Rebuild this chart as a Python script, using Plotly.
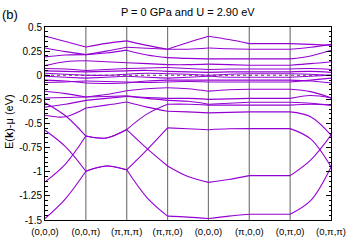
import plotly.graph_objects as go

# high-symmetry path labels
k_labels = ["(0,0,0)", "(0,0,π)", "(π,π,π)", "(π,π,0)", "(0,0,0)", "(π,0,0)", "(0,π,0)", "(0,π,π)"]
# k-nodes: high-symmetry points and segment midpoints
k_nodes = [0, 0.5, 1, 1.5, 2, 2.5, 3, 3.5, 4, 4.5, 5, 5.5, 6, 6.5, 7]

# band energies E(k)-mu (eV) read at each node
band_L1 = [-1.485, -1.28, -0.995, -0.94, -0.98, -1.27, -1.46, -1.47, -1.485, -1.46, -1.44, -1.44, -1.44, -1.30, -0.95]
band_L2 = [-1.105, -0.92, -0.63, -0.65, -0.563, -0.76, -0.94, -1.05, -1.11, -1.08, -1.04, -1.04, -1.04, -0.88, -0.62]
band_L3 = [-0.57, -0.74, -0.995, -0.94, -0.98, -0.77, -0.545, -0.555, -0.565, -0.555, -0.553, -0.553, -0.553, -0.66, -0.95]
band_L4 = [-0.285, -0.42, -0.63, -0.65, -0.563, -0.40, -0.30, -0.30, -0.31, -0.31, -0.31, -0.31, -0.31, -0.30, -0.31]
band_B5 = [-0.415, -0.43, -0.34, -0.31, -0.277, -0.33, -0.373, -0.38, -0.39, -0.385, -0.38, -0.38, -0.38, -0.43, -0.62]
band_B6 = [-0.33, -0.30, -0.26, -0.24, -0.22, -0.23, -0.24, -0.24, -0.25, -0.245, -0.24, -0.24, -0.24, -0.21, -0.235]
band_B7 = [-0.235, -0.23, -0.225, -0.22, -0.214, -0.24, -0.26, -0.27, -0.30, -0.29, -0.28, -0.28, -0.28, -0.29, -0.31]
band_B8 = [-0.166, -0.19, -0.225, -0.20, -0.16, -0.14, -0.13, -0.14, -0.165, -0.15, -0.145, -0.145, -0.145, -0.17, -0.235]
band_C1 = [0.07, 0.065, 0.05, 0.06, 0.07, 0.075, 0.08, 0.07, 0.06, 0.065, 0.065, 0.065, 0.065, 0.07, 0.06]
band_C2 = [0.045, 0.04, 0.035, 0.04, 0.045, 0.05, 0.04, 0.035, 0.03, 0.035, 0.035, 0.035, 0.035, 0.04, 0.03]
band_C3 = [0.02, 0.01, 0.0, 0.0, 0.01, 0.02, 0.015, 0.01, 0.0, 0.01, 0.015, 0.015, 0.015, 0.01, 0.0]
band_C4 = [-0.01, -0.02, -0.03, -0.02, -0.01, -0.02, -0.03, -0.02, -0.01, -0.02, -0.02, -0.02, -0.02, -0.01, 0.0]
band_C5 = [-0.05, -0.06, -0.08, -0.085, -0.08, -0.06, -0.05, -0.05, -0.05, -0.05, -0.05, -0.05, -0.05, -0.06, -0.08]
band_C6 = [-0.075, -0.07, -0.06, -0.065, -0.07, -0.075, -0.07, -0.065, -0.07, -0.07, -0.07, -0.07, -0.07, -0.05, -0.03]
band_U1 = [0.404, 0.35, 0.293, 0.33, 0.356, 0.31, 0.27, 0.34, 0.404, 0.37, 0.328, 0.328, 0.328, 0.32, 0.311]
band_U2 = [0.283, 0.245, 0.214, 0.25, 0.29, 0.28, 0.27, 0.27, 0.283, 0.275, 0.27, 0.27, 0.27, 0.29, 0.32]
band_U3 = [0.19, 0.21, 0.214, 0.23, 0.26, 0.21, 0.183, 0.175, 0.17, 0.17, 0.17, 0.17, 0.17, 0.20, 0.26]
band_U4 = [0.10, 0.14, 0.15, 0.14, 0.13, 0.12, 0.11, 0.11, 0.115, 0.11, 0.104, 0.104, 0.104, 0.12, 0.14]

bands = [band_L1, band_L2, band_L3, band_L4, band_B5, band_B6, band_B7, band_B8,
         band_C1, band_C2, band_C3, band_C4, band_C5, band_C6,
         band_U1, band_U2, band_U3, band_U4]

y_tick_vals = [0.5, 0.25, 0, -0.25, -0.5, -0.75, -1, -1.25, -1.5]
y_tick_text = ["0.5", "0.25", "0", "-0.25", "-0.5", "-0.75", "-1", "-1.25", "-1.5"]

BAND_COLOR = "#9400D3"
FONT = "Liberation Sans, Arial, sans-serif"

fig = go.Figure()

# Fermi level
fig.add_trace(go.Scatter(x=[0, 7], y=[0, 0], mode="lines",
                         line=dict(color="#222222", width=0.8, dash="3px,3px"),
                         hoverinfo="skip", showlegend=False))

for band in bands:
    xs, ys = [], []
    for s in range(7):
        xs += k_nodes[2 * s:2 * s + 3] + [None]
        ys += band[2 * s:2 * s + 3] + [None]
    fig.add_trace(go.Scatter(x=xs, y=ys, mode="lines", line_shape="spline",
                             line=dict(color=BAND_COLOR, width=1.1),
                             connectgaps=False, hoverinfo="skip", showlegend=False))

n_k = len(k_labels)
for i in range(1, n_k - 1):
    fig.add_shape(type="line", xref="x", yref="paper", x0=i, x1=i, y0=0, y1=1,
                  line=dict(color="#7a7a7a", width=1.2), layer="below")

fig.update_layout(
    width=349, height=244,
    margin=dict(l=45, r=18, t=27, b=24),
    paper_bgcolor="white", plot_bgcolor="white",
    font=dict(family=FONT, size=10, color="black"),
    title=dict(text="P = 0 GPa and U = 2.90 eV", x=0.538, xref="container",
               y=0.95, yref="container", xanchor="center", yanchor="middle",
               font=dict(family=FONT, size=11, color="black")),
    xaxis=dict(range=[0, n_k - 1], tickvals=list(range(n_k)), ticktext=k_labels,
               showgrid=False, zeroline=False, showline=True, linecolor="black",
               linewidth=1, mirror=True, ticks="", tickfont=dict(size=9.5),
               ticklabelstandoff=3, automargin=False),
    yaxis=dict(range=[-1.5, 0.5], tickvals=y_tick_vals, ticktext=y_tick_text,
               showgrid=False, zeroline=False, showline=True, linecolor="black",
               linewidth=1, mirror="allticks", ticks="inside", ticklen=5,
               tickcolor="black", tickwidth=1, tickfont=dict(size=10),
               automargin=False,
               minor=dict(dtick=0.05, ticks="inside", ticklen=2.5,
                          tickcolor="black", tickwidth=1, showgrid=False)),
    annotations=[
        dict(text="(b)", xref="paper", yref="paper", x=-0.122, y=1.067,
             xanchor="center", yanchor="middle", showarrow=False,
             font=dict(family=FONT, size=13, color="black")),
        dict(text="E(<b>k</b>)-μ (eV)", xref="paper", yref="paper", x=-0.128, y=0.51,
             xanchor="center", yanchor="middle", showarrow=False, textangle=-90,
             font=dict(family=FONT, size=11, color="black")),
    ],
)

# remove the browser's default 8px body margin so the figure sits at the page origin
fig.write_html("out.html", config={"displayModeBar": False},
               post_script="document.body.style.margin='0';")
